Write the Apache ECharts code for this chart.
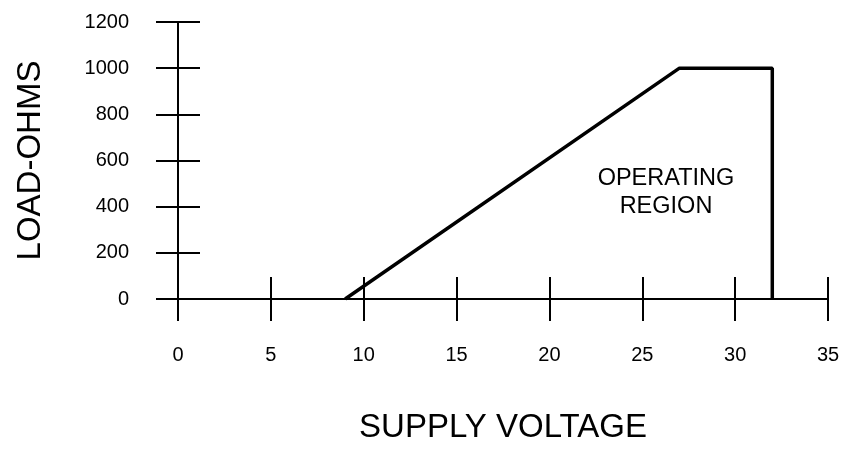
<!DOCTYPE html>
<html>
<head>
<meta charset="utf-8">
<script src="https://cdn.jsdelivr.net/npm/echarts@6/dist/echarts.min.js"></script>
<style>
  html, body { margin: 0; padding: 0; background: #fff; }
  #chart { width: 849px; height: 449px; }
</style>
</head>
<body>
<div id="chart"></div>
<script>
// 工作区边界 (电压, 负载)
var voltage = [9, 27, 32, 32];
var loadOhms = [0, 1000, 1000, 0];
var xTicks = [0, 5, 10, 15, 20, 25, 30, 35];
var yTicks = [0, 200, 400, 600, 800, 1000, 1200];

var font = 'Arial, "Liberation Sans", sans-serif';
var myChart = echarts.init(document.getElementById('chart'));

function xAxisCfg(inside, show) {
  return {
    type: 'value',
    min: xTicks[0],
    max: xTicks[xTicks.length - 1],
    interval: 5,
    position: 'bottom',
    axisLine: { show: show, lineStyle: { color: '#000', width: 2 } },
    axisTick: { show: true, inside: inside, length: 22, lineStyle: { color: '#000', width: 2 } },
    axisLabel: { show: show, margin: 46, color: '#000', fontSize: 20, fontFamily: font,
      formatter: function (v) { return String(v); } },
    splitLine: { show: false },
    name: show ? 'SUPPLY VOLTAGE' : '',
    nameLocation: 'middle',
    nameGap: 112,
    nameTextStyle: { color: '#000', fontSize: 33, fontFamily: font }
  };
}

function yAxisCfg(inside, show) {
  return {
    type: 'value',
    min: yTicks[0],
    max: yTicks[yTicks.length - 1],
    interval: 200,
    position: 'left',
    axisLine: { show: show, lineStyle: { color: '#000', width: 2 } },
    axisTick: { show: true, inside: inside, length: 22, lineStyle: { color: '#000', width: 2 } },
    axisLabel: { show: show, margin: 49, color: '#000', fontSize: 20, fontFamily: font,
      formatter: function (v) { return String(v); } },
    splitLine: { show: false },
    name: show ? 'LOAD-OHMS' : '',
    nameLocation: 'middle',
    nameGap: 131,
    nameTextStyle: { color: '#000', fontSize: 33, fontFamily: font }
  };
}

var option = {
  animation: false,
  backgroundColor: '#fff',
  grid: { left: 178, right: 21, top: 22, bottom: 147 },
  xAxis: [xAxisCfg(false, true), xAxisCfg(true, false)],
  yAxis: [yAxisCfg(false, true), yAxisCfg(true, false)],
  graphic: [{
    type: 'text',
    x: 666,
    y: 165,
    style: {
      text: 'OPERATING\nREGION',
      align: 'center',
      verticalAlign: 'top',
      fill: '#000',
      fontSize: 23.5,
      lineHeight: 28,
      fontFamily: font
    }
  }],
  series: [{
    type: 'line',
    data: voltage.map(function (v, i) { return [v, loadOhms[i]]; }),
    symbol: 'none',
    lineStyle: { color: '#000', width: 3.5 }
  }]
};
myChart.setOption(option);
</script>
</body>
</html>
